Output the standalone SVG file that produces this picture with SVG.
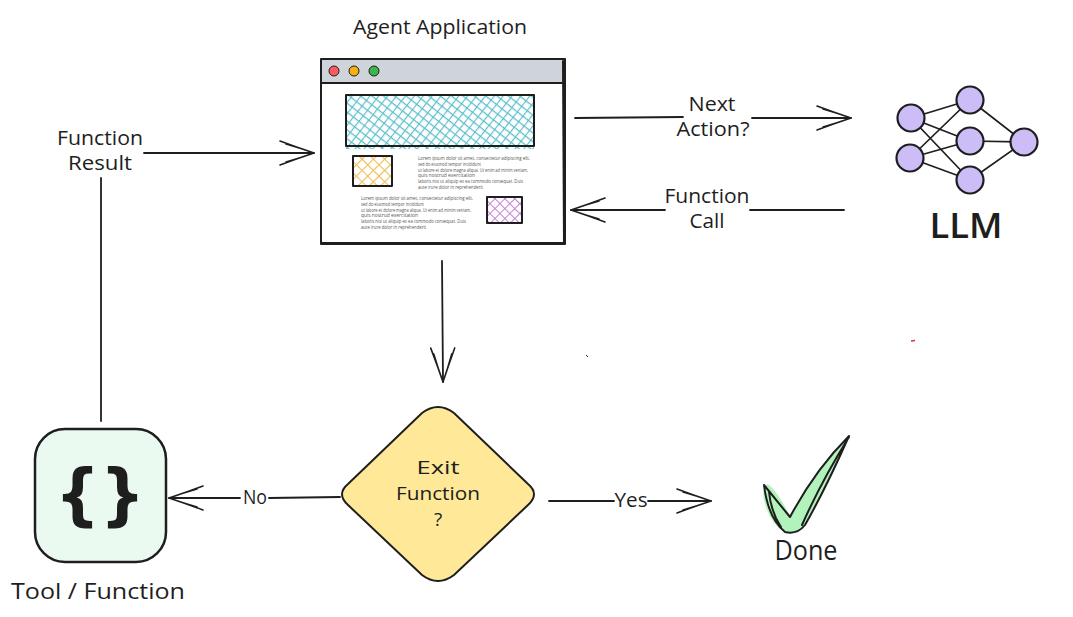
<svg xmlns="http://www.w3.org/2000/svg" width="1073" height="617" viewBox="0 0 1073 617">
<style>
.t{font-family:"Open Sans","Liberation Sans",sans-serif;fill:#1e1e1e;text-anchor:middle;font-size:20px;font-weight:500}
.s{stroke:#1e1e1e;stroke-width:2;fill:none;stroke-linecap:round;stroke-linejoin:round}
.c{stroke:#1e1e1e;stroke-width:1.8;fill:none;stroke-linecap:round;marker-end:url(#a)}
.n{stroke:#1e1e1e;stroke-width:1.8;fill:none;stroke-linecap:round}
.nn{fill:#cdbdf7;stroke:#1e1e1e;stroke-width:2.2}
.tiny{font-family:"Open Sans","Liberation Sans",sans-serif;font-size:4.6px;fill:#555}
.b{font-size:68px;font-family:"DejaVu Sans",sans-serif;font-weight:700}
</style>
<defs>
<marker id="a" markerUnits="userSpaceOnUse" markerWidth="40" markerHeight="30" refX="36" refY="15" orient="auto"><path d="M2 3Q18 9 36 15Q18 21 2 27M8 6Q22 10 36 15Q22 20 8 24" fill="none" stroke="#1e1e1e" stroke-width="1.6" stroke-linecap="round" stroke-linejoin="round"/></marker>
<pattern id="h1" patternUnits="userSpaceOnUse" width="7" height="7" patternTransform="rotate(38)"><path d="M0 0H7M0 0V7" stroke="#5bbfcc" stroke-width="2.3" fill="none"/></pattern>
<pattern id="h2" patternUnits="userSpaceOnUse" width="8" height="8" patternTransform="rotate(45)"><path d="M0 0H8M0 0V8" stroke="#f2bb4c" stroke-width="2.2" fill="none"/></pattern>
<pattern id="h3" patternUnits="userSpaceOnUse" width="7" height="7" patternTransform="rotate(45)"><path d="M0 0H7M0 0V7" stroke="#c67fd6" stroke-width="2" fill="none"/></pattern>
</defs>
<rect width="1073" height="617" fill="#fff"/>
<g id="connectors">
<path class="n" d="M575 118L683 117"/><path class="c" d="M752 118L851 118"/>
<path class="n" d="M844 210L750 210"/><path class="c" d="M665 210L571 210"/>
<path class="c" d="M144 153L314 153"/>
<path class="n" d="M101 178L101 421"/>
<path class="c" d="M442 261L443 382"/>
<path class="n" d="M340 497L269 498"/><path class="c" d="M240 498L169 498"/>
<path class="n" d="M549 501L614 501"/><path class="c" d="M648 501L711 501"/>
</g>
<g id="agent-application">
<text class="t" x="440" y="34" textLength="174" lengthAdjust="spacingAndGlyphs">Agent Application</text>
<rect x="321" y="59" width="244" height="185" fill="#fff"/>
<rect x="322" y="60" width="242" height="23" fill="#ced4da"/>
<path class="s" d="M321 59H565V244H321ZM322 83H564M563 61L564 243M322 243L563 243"/>
<circle cx="334" cy="71" r="5" fill="#ff5a5f" stroke="#1e1e1e"/>
<circle cx="354" cy="71" r="5" fill="#f5b014" stroke="#1e1e1e"/>
<circle cx="374" cy="71" r="5" fill="#3cb54a" stroke="#1e1e1e"/>
<rect x="346" y="95" width="188" height="54" style="fill:url(#h1)"/>
<rect x="346" y="95" width="188" height="51" class="s"/>
<rect x="353" y="156" width="39" height="30" style="fill:url(#h2)" class="s"/>
<rect x="487" y="197" width="35" height="26" style="fill:url(#h3)" class="s"/>
<g class="tiny">
<text x="418" y="160" textLength="112" lengthAdjust="spacingAndGlyphs">Lorem ipsum dolor sit amet, consectetur adipiscing elit,</text>
<text x="418" y="166" textLength="63" lengthAdjust="spacingAndGlyphs">sed do eiusmod tempor incididunt</text>
<text x="418" y="171.500" textLength="110" lengthAdjust="spacingAndGlyphs">ut labore et dolore magna aliqua. Ut enim ad minim veniam,</text>
<text x="418" y="177" textLength="57" lengthAdjust="spacingAndGlyphs">quis nostrud exercitation</text>
<text x="418" y="183" textLength="105" lengthAdjust="spacingAndGlyphs">laboris nisi ut aliquip ex ea commodo consequat. Duis</text>
<text x="418" y="188.500" textLength="65" lengthAdjust="spacingAndGlyphs">aute irure dolor in reprehenderit</text>
<text x="361" y="200" textLength="112" lengthAdjust="spacingAndGlyphs">Lorem ipsum dolor sit amet, consectetur adipiscing elit,</text>
<text x="361" y="206" textLength="63" lengthAdjust="spacingAndGlyphs">sed do eiusmod tempor incididunt</text>
<text x="361" y="211.500" textLength="110" lengthAdjust="spacingAndGlyphs">ut labore et dolore magna aliqua. Ut enim ad minim veniam,</text>
<text x="361" y="217" textLength="57" lengthAdjust="spacingAndGlyphs">quis nostrud exercitation</text>
<text x="361" y="223" textLength="105" lengthAdjust="spacingAndGlyphs">laboris nisi ut aliquip ex ea commodo consequat. Duis</text>
<text x="361" y="228.500" textLength="65" lengthAdjust="spacingAndGlyphs">aute irure dolor in reprehenderit</text>
</g>
</g>
<g id="llm">
<path class="s" style="stroke-width:1.7" d="M911 118L970 100M911 118L970 141M911 118L970 180M910 158L970 100M910 158L970 141M910 158L970 180M970 100L1024 142M970 141L1024 142M970 180L1024 142"/>
<circle class="nn" cx="911" cy="118" r="13.500"/>
<circle class="nn" cx="910" cy="158" r="13.500"/>
<circle class="nn" cx="970" cy="100" r="13.500"/>
<circle class="nn" cx="970" cy="141" r="13.500"/>
<circle class="nn" cx="970" cy="180" r="13.500"/>
<circle class="nn" cx="1024" cy="142" r="13.500"/>
<text class="t" x="966" y="238" textLength="73" lengthAdjust="spacingAndGlyphs" style="font-size:35px;font-weight:600">LLM</text>
</g>
<g id="next-action"><text class="t" x="712" y="111" textLength="47" lengthAdjust="spacingAndGlyphs">Next</text><text class="t" x="713" y="136" textLength="73" lengthAdjust="spacingAndGlyphs">Action?</text></g>
<g id="function-call"><text class="t" x="707" y="203" textLength="85" lengthAdjust="spacingAndGlyphs">Function</text><text class="t" x="707" y="228" textLength="35" lengthAdjust="spacingAndGlyphs">Call</text></g>
<g id="function-result"><text class="t" x="100" y="145" textLength="86" lengthAdjust="spacingAndGlyphs">Function</text><text class="t" x="100" y="170" textLength="64" lengthAdjust="spacingAndGlyphs">Result</text></g>
<g id="tool">
<rect x="35" y="429" width="131" height="133" rx="30" fill="#ebfaf0" stroke="#1e1e1e" stroke-width="2.500"/>
<text class="t b" x="100" y="518" textLength="90" lengthAdjust="spacingAndGlyphs">{}</text>
<text class="t" x="98" y="599" textLength="174" lengthAdjust="spacingAndGlyphs" style="font-size:21px">Tool / Function</text>
</g>
<g id="exit-function">
<path d="M422 413Q438 401 454 413L528 484Q540 494 528 505L454 575Q438 587 422 575L348 505Q336 494 348 484Z" fill="#ffe999" stroke="#1e1e1e" stroke-width="2"/>
<text class="t" x="438" y="474" textLength="43" lengthAdjust="spacingAndGlyphs" style="font-size:19px">Exit</text>
<text class="t" x="438" y="500" textLength="84" lengthAdjust="spacingAndGlyphs" style="font-size:19px">Function</text>
<text class="t" x="438" y="526" style="font-size:19px">?</text>
</g>
<g id="no-label"><text class="t" x="255" y="504" textLength="24" lengthAdjust="spacingAndGlyphs">No</text></g>
<g id="yes-label"><text class="t" x="631" y="507" textLength="33" lengthAdjust="spacingAndGlyphs">Yes</text></g>
<g id="done">
<path d="M767 484Q775 487 790 516Q815 470 849 436Q825 490 805 525Q797 535 785 532Q770 525 764 500Q762 488 767 484Z" fill="#b2f2bb"/>
<path class="s" d="M764 485L790 517Q815 470 849 436Q825 490 805 525Q797 535 785 532Q768 518 764 485ZM769 492Q771 512 781 527M849 437Q822 480 802 525"/>
<text class="t" x="806" y="560" textLength="63" lengthAdjust="spacingAndGlyphs" style="font-size:27px">Done</text>
</g>
<g id="marks">
<path d="M586 355L588 357" stroke="#333" stroke-width="1" fill="none"/>
<path d="M911 341L915 340.500" stroke="#d33" stroke-width="1.500" fill="none"/>
</g>
</svg>
